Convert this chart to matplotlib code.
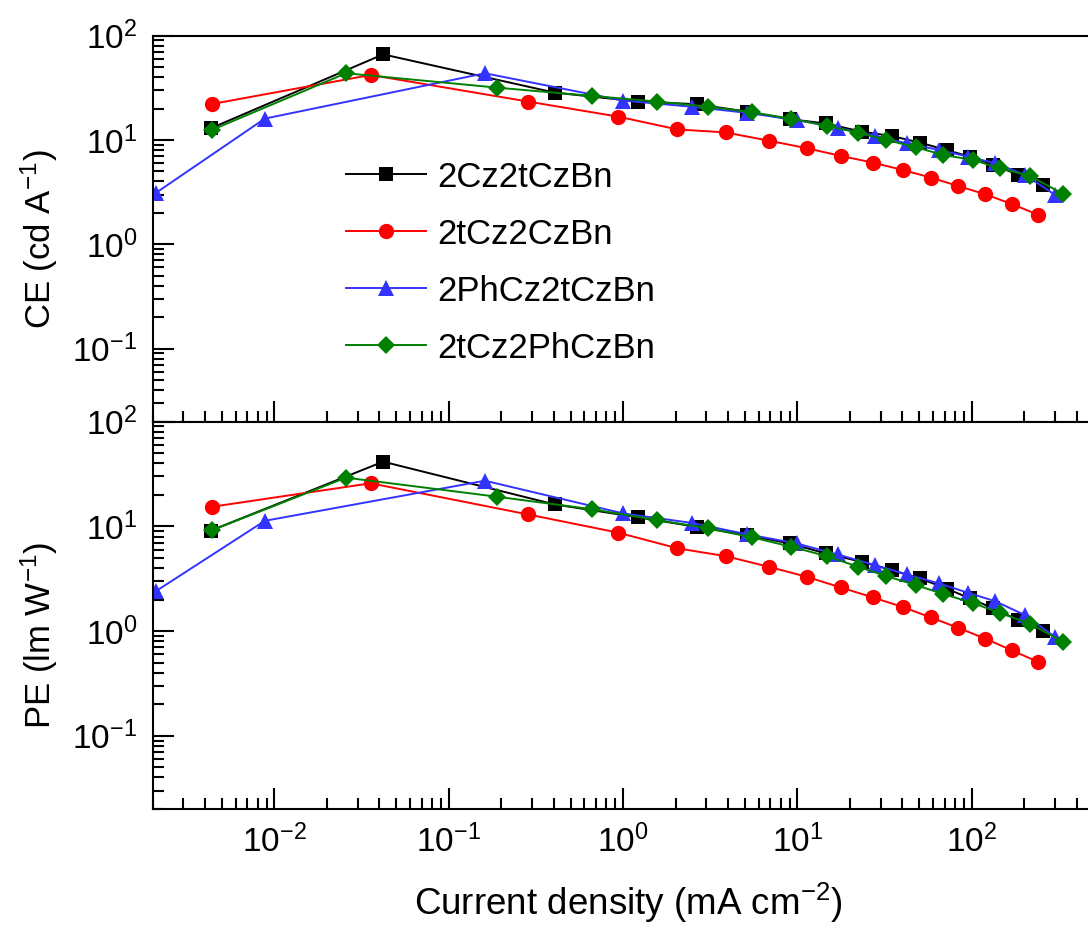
import matplotlib
matplotlib.use("Agg")
import matplotlib.pyplot as plt
from matplotlib.ticker import LogLocator, NullFormatter

plt.rcParams["font.family"] = ["Liberation Sans", "DejaVu Sans"]
plt.rcParams["mathtext.default"] = "regular"

labels = ["2Cz2tCzBn", "2tCz2CzBn", "2PhCz2tCzBn", "2tCz2PhCzBn"]

# current density (mA cm-2), same for both panels
x_black = [0.0043, 0.042, 0.405, 1.22, 2.64, 5.1, 9.0, 14.5, 23.3, 34.7, 50.4, 71.6, 97.5, 133, 185, 257]
x_red = [0.00439, 0.0356, 0.285, 0.94, 2.05, 3.87, 6.85, 11.3, 17.7, 27, 40.1, 58.2, 82.9, 119, 169, 240]
x_blue = [0.0021, 0.0088, 0.161, 1.0, 2.47, 5.1, 9.9, 17, 27.8, 42.3, 65, 95.4, 136, 202, 300]
x_green = [0.00439, 0.0257, 0.189, 0.659, 1.57, 3.07, 5.52, 9.24, 14.7, 22.3, 32.4, 47.8, 68.5, 101, 145, 215, 334]

# current efficiency (cd A-1)
ce_black = [12.9, 66, 28.4, 23.3, 22.0, 18.7, 15.8, 14.4, 12.0, 10.9, 9.42, 8.0, 6.92, 5.77, 4.63, 3.71]
ce_red = [22.1, 41.9, 23.3, 16.7, 12.6, 11.8, 9.84, 8.33, 7.03, 6.07, 5.16, 4.36, 3.63, 3.02, 2.44, 1.92]
ce_blue = [3.13, 16.0, 43.5, 23.8, 20.8, 18.2, 15.5, 13.1, 10.9, 9.3, 8.0, 6.92, 5.98, 4.63, 2.98]
ce_green = [12.5, 43.5, 31.7, 26.4, 23.3, 20.8, 18.4, 15.9, 13.7, 11.7, 10.0, 8.5, 7.18, 6.44, 5.36, 4.53, 3.04]

# power efficiency (lm W-1)
pe_black = [9.1, 41.5, 16.2, 12.2, 9.9, 8.26, 6.88, 5.52, 4.59, 3.82, 3.18, 2.55, 2.05, 1.65, 1.27, 1.0]
pe_red = [15.4, 25.8, 13.0, 8.7, 6.17, 5.2, 4.11, 3.3, 2.61, 2.1, 1.70, 1.35, 1.08, 0.849, 0.656, 0.508]
pe_blue = [2.42, 11.3, 27.3, 13.3, 10.8, 8.43, 6.87, 5.39, 4.27, 3.48, 2.85, 2.32, 1.93, 1.42, 0.88]
pe_green = [9.2, 29.2, 19.2, 14.6, 11.5, 9.57, 7.85, 6.38, 5.2, 4.11, 3.35, 2.75, 2.26, 1.86, 1.49, 1.18, 0.79]

styles = [
    ("black", "s", 10),
    ("#ff0000", "o", 11),
    ("#3333ff", "^", 12),
    ("#008000", "D", 9),
]

fig = plt.figure(figsize=(10.88, 9.4), dpi=100)
ax1 = fig.add_axes([0.1403, 0.5514, 0.8649, 0.4108])
ax2 = fig.add_axes([0.1403, 0.1394, 0.8649, 0.4120], sharex=ax1)


def draw(ax, xs, ys):
    for x, y, lab, (c, m, ms) in zip(xs, ys, labels, styles):
        ax.plot(x, y, color=c, marker=m, markersize=ms, linewidth=1.4,
                markeredgewidth=0, label=lab)
    ax.set_xscale("log")
    ax.set_yscale("log")
    ax.set_xlim(0.002, 500)
    ax.set_ylim(0.02, 100)
    ax.yaxis.set_major_locator(LogLocator(base=10, numticks=10))
    ax.yaxis.set_minor_locator(LogLocator(base=10, subs=range(2, 10), numticks=10))
    ax.yaxis.set_minor_formatter(NullFormatter())
    ax.xaxis.set_minor_locator(LogLocator(base=10, subs=range(2, 10), numticks=12))
    ax.xaxis.set_minor_formatter(NullFormatter())
    ax.tick_params(which="both", direction="in", top=False, right=False,
                   width=1.5, labelsize=24)
    ax.tick_params(which="major", length=15, pad=11)
    ax.tick_params(which="minor", length=8)
    for sp in ax.spines.values():
        sp.set_linewidth(1.5)


xs = [x_black, x_red, x_blue, x_green]
draw(ax1, xs, [ce_black, ce_red, ce_blue, ce_green])
draw(ax2, xs, [pe_black, pe_red, pe_blue, pe_green])
ax1.tick_params(axis="x", labelbottom=False)

ax1.set_ylabel("CE (cd A$^{-1}$)", fontsize=25)
ax2.set_ylabel("PE (lm W$^{-1}$)", fontsize=25)
ax1.yaxis.set_label_coords(-0.098, 0.473)
ax2.yaxis.set_label_coords(-0.098, 0.447)
ax2.set_xlabel("Current density (mA cm$^{-2}$)", fontsize=26.5)
ax2.xaxis.set_label_coords(0.506, -0.185)

ax1.legend(loc="upper left", bbox_to_anchor=(0.206, 0.676), frameon=False,
           fontsize=25, borderpad=0, borderaxespad=0, handlelength=2.3,
           handletextpad=0.32, labelspacing=0.69)

fig.savefig("out.png", dpi=100)
